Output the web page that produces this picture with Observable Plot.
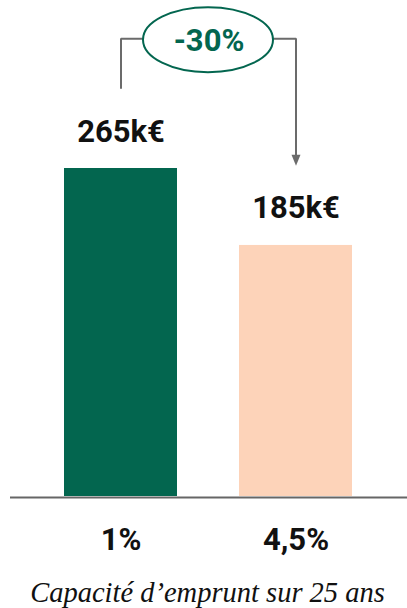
<!DOCTYPE html>
<html><head><meta charset="utf-8">
<script src="https://cdn.jsdelivr.net/npm/d3@7"></script>
<script src="https://cdn.jsdelivr.net/npm/@observablehq/plot@0.6"></script>
<style>
body{margin:0;background:#fff;}
#caption{font-family:"Liberation Serif",serif;font-style:italic;font-size:28.5px;line-height:40px;text-align:center;width:407px;padding-left:8px;box-sizing:border-box;color:#111;white-space:nowrap;}
</style></head><body>
<div id="chart"></div>
<div id="caption"></div>
<script>
const categories = ["1%", "4,5%"];
const values = [265, 185];
const valueLabels = ["265k€", "185k€"];
const barColors = ["#03664f", "#fdd3b9"];
const changeLabel = "-30%";
const captionText = "Capacité d’emprunt sur 25 ans";
const baseValue = -76;     // value at the chart's baseline
const bracketStart = 348;  // connector start above the first bar
const bracketLevel = 400;  // connector top level
const arrowEnd = 274;      // connector end above the second bar

const bars = categories.map((c, i) => ({category: c, value: values[i], label: valueLabels[i], color: barColors[i]}));
const connector = [
  {category: categories[0], value: bracketStart},
  {category: categories[0], value: bracketLevel},
  {category: categories[1], value: bracketLevel},
  {category: categories[1], value: arrowEnd}
];
const arrowHead = {draw(ctx) { ctx.moveTo(-4.5, -5); ctx.lineTo(4.5, -5); ctx.lineTo(0, 6); ctx.closePath(); }};
const grey = "#6b6b6b", green = "#03664f";

const H = 573, MB = 77;
const plot = Plot.plot({
  width: 407, height: H, marginLeft: 10, marginRight: 0, marginTop: 0, marginBottom: MB,
  style: {fontFamily: "Roboto, sans-serif", background: "#fff", overflow: "visible"},
  x: {domain: categories, range: [63, 353], paddingInner: 0.352, paddingOuter: 0, axis: null, label: null},
  y: {domain: [baseValue, 265], range: [H - MB, 168], axis: null},
  marks: [
    Plot.barY(bars, {x: "category", y1: baseValue, y2: "value", fill: "color"}),
    Plot.ruleY([baseValue], {stroke: "#666", strokeWidth: 2, dy: 1}),
    Plot.axisX({tickSize: 0, tickPadding: 31, fontSize: 31, fontWeight: "bold", color: "#111", label: null}),
    Plot.text(bars, {x: "category", y: "value", text: "label", dy: -27, lineAnchor: "bottom", fontSize: 31, fontWeight: "bold", fill: "#111"}),
    Plot.line(connector, {x: "category", y: "value", stroke: grey, strokeWidth: 2, strokeLinejoin: "miter", strokeLinecap: "butt"}),
    Plot.dot([connector[3]], {x: "category", y: "value", symbol: arrowHead, fill: grey, stroke: "none"}),
    Plot.text([{value: bracketLevel, label: changeLabel}], {y: "value", text: "label", frameAnchor: "middle", dy: 2, fontSize: 31, fontWeight: "bold", fill: green})
  ]
});
// ellipse around the change label, placed with the plot's scales
const xs = plot.scale("x"), ys = plot.scale("y");
const cx = (xs.apply(categories[0]) + xs.apply(categories[1])) / 2 + xs.bandwidth / 2;
const cy = ys.apply(bracketLevel) + 1.5;
const ell = document.createElementNS("http://www.w3.org/2000/svg", "ellipse");
ell.setAttribute("cx", cx); ell.setAttribute("cy", cy);
ell.setAttribute("rx", 65); ell.setAttribute("ry", 32.5);
ell.setAttribute("fill", "#fff"); ell.setAttribute("stroke", green); ell.setAttribute("stroke-width", 2);
plot.insertBefore(ell, plot.lastChild);
document.getElementById("chart").append(plot);
document.getElementById("caption").textContent = captionText;
</script>
</body></html>
